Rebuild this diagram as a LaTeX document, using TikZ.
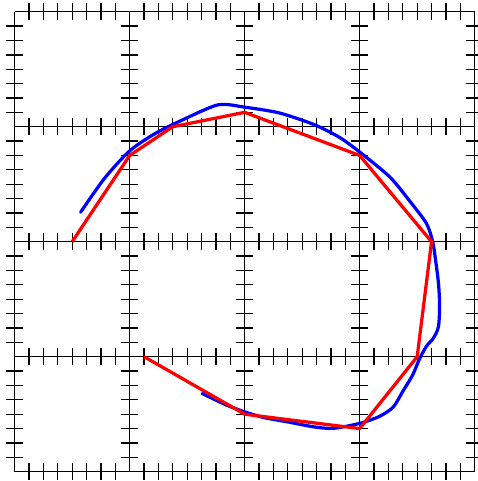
\documentclass[tikz,border=0pt]{standalone}
\usepackage{tikz}
\usetikzlibrary{calc}
\tikzset{
  gridln/.style={black,line width=0.65pt},
  tk/.style={black,line width=0.65pt},
  hand/.style={blue,line width=1.6pt,line join=round,line cap=round},
  poly/.style={red,line width=1.6pt,line join=round}
}

\begin{document}
\begin{tikzpicture}[x=2cm,y=2cm]
\useasboundingbox (-0.128,-0.081) rectangle (4.022,4.102);
% grid with ticks
\foreach \k in {0,...,4}{
 \draw[gridln] (\k,0)--(\k,4);
 \draw[gridln] (0,\k)--(4,\k);}
\foreach \k in {0,...,4}{\foreach \i in {0,...,3}{\foreach \j in {1,...,7}{
 \draw[tk] ($(\i,\k)+(\j/8,-0.072)$)--++(0,0.144);
 \draw[tk] ($(\k,\i)+(-0.072,\j/8)$)--++(0.144,0);}}}
% hand drawn curve
\draw[hand] plot[smooth,tension=0.45] coordinates {
 (0.573,2.256) (0.78,2.55) (1.0,2.79) (1.22,2.94) (1.44,3.05) (1.767,3.19)
 (2.0,3.17) (2.3,3.12) (2.6,3.02) (2.82,2.91) (3.0,2.78) (3.26,2.565)
 (3.43,2.36) (3.58,2.16) (3.635,2.0) (3.66,1.84) (3.685,1.64) (3.695,1.45)
 (3.685,1.26) (3.64,1.16) (3.58,1.09) (3.52,0.98) (3.46,0.84) (3.37,0.69)
 (3.29,0.56) (3.17,0.48) (3.0,0.42) (2.77,0.377) (2.6,0.39) (2.39,0.43)
 (2.17,0.47) (2.0,0.52) (1.84,0.58) (1.63,0.68)};
% resampled polygon
\foreach \n/\p in {1/{0.5,2},2/{1,2.75},3/{1.375,3},4/{2,3.125},5/{3,2.75},
 6/{3.625,2},7/{3.5,1},8/{3,0.375},9/{2,0.5},10/{1.125,1}}{
 \coordinate (v\n) at (\p);}
\draw[poly] (v1)--(v2)--(v3)--(v4)--(v5)--(v6)--(v7)--(v8)--(v9)--(v10);
\end{tikzpicture}
\end{document}
